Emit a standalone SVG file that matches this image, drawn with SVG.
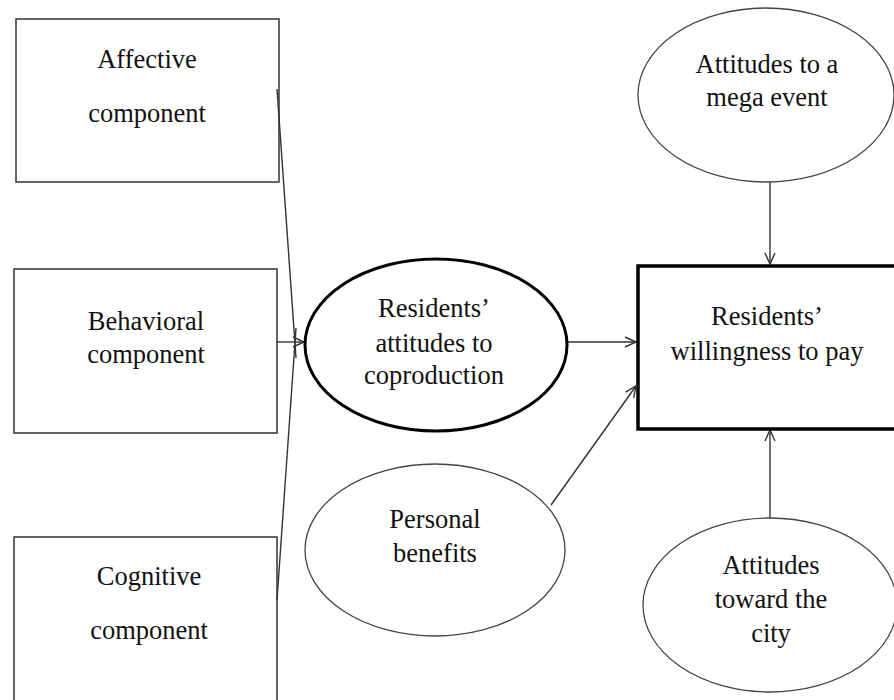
<svg xmlns="http://www.w3.org/2000/svg" width="894" height="700" viewBox="0 0 894 700">
<style>
.t{font-family:"Liberation Serif","Times New Roman",serif;font-size:26.5px;fill:#111;text-anchor:middle}
.thin{fill:#fff;stroke:#333;stroke-width:1.5}
.ell{fill:#fff;stroke:#444;stroke-width:1.3}
.thick{fill:#fff;stroke:#000;stroke-width:3.5}
.c{fill:none;stroke:#333;stroke-width:1.4}
</style>
<defs>
<marker id="ah" markerWidth="14" markerHeight="12" refX="12" refY="6" orient="auto" markerUnits="userSpaceOnUse">
<path d="M1,1 L12,6 L1,11" fill="none" stroke="#333" stroke-width="1.4"/>
</marker>
</defs>
<rect width="894" height="700" fill="#fff"/>
<g id="affective">
<rect class="thin" x="16" y="19" width="263" height="163"/>
<text class="t" x="147" y="68">Affective</text>
<text class="t" x="147" y="122">component</text>
</g>
<g id="behavioral">
<rect class="thin" x="14" y="269" width="263" height="164"/>
<text class="t" x="146" y="330">Behavioral</text>
<text class="t" x="146" y="363">component</text>
</g>
<g id="cognitive">
<rect class="thin" x="14" y="537" width="263" height="170"/>
<text class="t" x="149" y="585">Cognitive</text>
<text class="t" x="149" y="639">component</text>
</g>
<g id="connectors">
<line class="c" x1="277" y1="89" x2="296" y2="358"/>
<line class="c" x1="277" y1="600" x2="296" y2="328"/>
<line class="c" x1="277" y1="342" x2="304" y2="342" marker-end="url(#ah)"/>
<line class="c" x1="567" y1="342" x2="636" y2="342" marker-end="url(#ah)"/>
<line class="c" x1="551" y1="505" x2="636" y2="386" marker-end="url(#ah)"/>
<line class="c" x1="770" y1="182" x2="770" y2="264" marker-end="url(#ah)"/>
<line class="c" x1="770" y1="518" x2="770" y2="430" marker-end="url(#ah)"/>
</g>
<g id="attitudes-coproduction">
<ellipse cx="436" cy="345" rx="131" ry="86" fill="#fff" stroke="#000" stroke-width="3"/>
<text class="t" x="434" y="317">Residents’</text>
<text class="t" x="434" y="352">attitudes to</text>
<text class="t" x="434" y="384">coproduction</text>
</g>
<g id="personal-benefits">
<ellipse class="ell" cx="435" cy="550" rx="130" ry="86"/>
<text class="t" x="435" y="528">Personal</text>
<text class="t" x="435" y="562">benefits</text>
</g>
<g id="willingness">
<rect class="thick" x="638" y="266" width="262" height="163"/>
<text class="t" x="767" y="325">Residents’</text>
<text class="t" x="767" y="360">willingness to pay</text>
</g>
<g id="mega-event">
<ellipse class="ell" cx="766" cy="95" rx="128" ry="87"/>
<text class="t" x="767" y="73">Attitudes to a</text>
<text class="t" x="767" y="106">mega event</text>
</g>
<g id="city">
<ellipse class="ell" cx="770" cy="605" rx="127" ry="87"/>
<text class="t" x="771" y="574">Attitudes</text>
<text class="t" x="771" y="608">toward the</text>
<text class="t" x="771" y="642">city</text>
</g>
</svg>
